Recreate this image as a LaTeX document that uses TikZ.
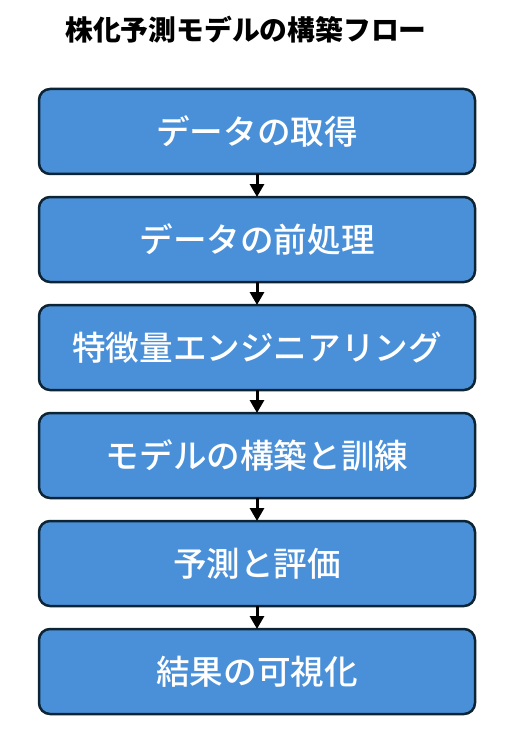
\documentclass[tikz,border=0pt]{standalone}
\usepackage{fontspec}
\newfontfamily\jpfont{Noto Sans CJK JP}
\newfontfamily\jpmedium{Noto Sans CJK JP Medium}
\usetikzlibrary{positioning,arrows.meta}
\definecolor{stepblue}{HTML}{4A90D9}
\definecolor{stepedge}{HTML}{0C2434}

\begin{document}
\begin{tikzpicture}[x=1pt,y=-1pt,
    stepbox/.style={draw=stepedge, line width=2.5pt, fill=stepblue, rounded corners=11pt,
      minimum width=436pt, minimum height=85pt, outer sep=0pt,
      text=white, font=\jpmedium\fontsize{33.6}{38}\selectfont},
    flow/.style={-{Triangle[length=13pt,width=14pt]}, line width=3pt, black},
    node distance=23pt]
      \useasboundingbox (0,0) rectangle (507,746);
      % title
      \node[font=\jpfont\bfseries\fontsize{27.8}{32}\selectfont] (title) at (246,30) {株化予測モデルの構築フロー};
      % steps
      \node[stepbox] (get) at (257,131.5) {データの取得};
      \node[stepbox, below=of get] (prep) {データの前処理};
      \node[stepbox, below=of prep] (feat) {特徴量エンジニアリング};
      \node[stepbox, below=of feat] (train) {モデルの構築と訓練};
      \node[stepbox, below=of train] (pred) {予測と評価};
      \node[stepbox, below=of pred] (vis) {結果の可視化};
      % arrows
      \draw[flow] (get) -- (prep);
      \draw[flow] (prep) -- (feat);
      \draw[flow] (feat) -- (train);
      \draw[flow] (train) -- (pred);
      \draw[flow] (pred) -- (vis);
\end{tikzpicture}
\end{document}
